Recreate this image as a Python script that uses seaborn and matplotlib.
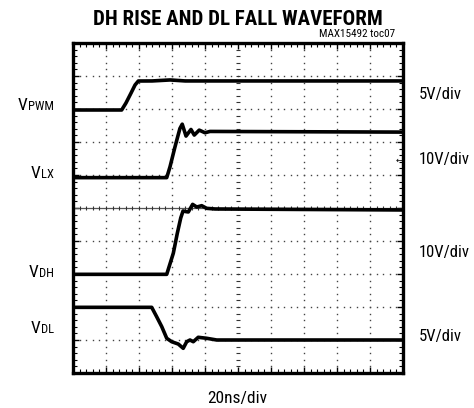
import numpy as np
import pandas as pd
import matplotlib
matplotlib.use("Agg")
import matplotlib.pyplot as plt
from matplotlib import font_manager as fm
import seaborn as sns

# ---------------- data ----------------
# time in ns (20 ns/div, 10 div), voltages in V relative to each trace's ground level
pwm_t = [0, 29.5, 32.1, 35.2, 37.6, 39.6, 48, 58.8, 68, 200]
pwm_v = [0, 0, 1.06, 2.58, 3.79, 4.39, 4.4, 4.55, 4.4, 4.4]

lx_t = [0, 56.8, 58.8, 61.8, 64.8, 66.2, 68.5, 71.5, 73.5, 76.5, 80.0, 83.0, 200]
lx_v = [0, 0, 3.3, 9.3, 14.9, 16.2, 12.6, 14.6, 12.9, 14.4, 13.6, 14.0, 13.8]

dh_t = [0, 56.8, 60.8, 63.2, 65.3, 66.7, 68.5, 69.9, 72.5, 75.0, 78.0, 81.0, 86.1, 200]
dh_v = [0, 0, 6.4, 12.4, 17.1, 19.2, 19.0, 18.9, 21.2, 20.4, 20.8, 20.0, 19.8, 19.5]

dl_t = [0, 47.7, 50.7, 53.8, 56.8, 59.8, 63.8, 66.8, 68.9, 70.9, 72.9, 75.9, 81.0, 87.1, 200]
dl_v = [4.95, 4.95, 3.53, 2.02, 0.26, -0.26, -0.61, -1.26, -0.26, 0, -0.26, 0.41, 0.26, 0, 0]

channels = ["PWM", "LX", "DH", "DL"]
volts_per_div = [5, 10, 10, 5]
ground_div = [7.97, 5.92, 2.99, 1.0]
scale_labels = ["5V/div", "10V/div", "10V/div", "5V/div"]
time_label = "20ns/div"
title = "DH RISE AND DL FALL WAVEFORM"
tag = "MAX15492 toc07"

# ---------------- styling ----------------
sns.set_style("white")
names = {f.name for f in fm.fontManager.ttflist}
cond = next((n for n in ["Liberation Sans Narrow", "Roboto Condensed",
                         "DejaVu Sans Condensed", "Open Sans Condensed"]
             if n in names), None)
if cond is not None:
    FAM = [cond, "DejaVu Sans"]
    LAB, RLAB, SUB, TIT, TAG = 12.5, 12, 9, 15, 8
else:
    FAM = ["Roboto", "DejaVu Sans"]
    LAB, RLAB, SUB, TIT, TAG = 11, 10.5, 8, 13.5, 7
plt.rcParams["font.family"] = FAM
plt.rcParams["text.color"] = "black"

W, H = 474, 408
fig = plt.figure(figsize=(W / 100, H / 100), dpi=100)
L, R, T, B = 73, 403, 43, 373
ax = fig.add_axes([L / W, 1 - B / H, (R - L) / W, (B - T) / H])
ax.set_xlim(0, 200)
ax.set_ylim(0, 10)

# dotted graticule
for i in range(1, 10):
    if i == 5:
        continue
    ys = np.arange(0, 10.01, 0.2)
    ax.plot(np.full_like(ys, i * 20), ys, ls="none", marker="s", ms=1.0,
            color="#444444", mew=0)
    xs = np.arange(0, 200.01, 4)
    ax.plot(xs, np.full_like(xs, i), ls="none", marker="s", ms=1.0,
            color="#444444", mew=0)
# centre cross with small ticks
ax.axhline(5, color="#555555", lw=0.9)
xs = np.arange(0, 200.01, 4)
ax.plot(xs, np.full_like(xs, 5), ls="none", marker="|", ms=3.5, mew=0.8, color="#333333")
ys = np.arange(0, 10.01, 0.2)
ax.plot(np.full_like(ys, 100), ys, ls="none", marker="_", ms=3.5, mew=0.8, color="#333333")

# traces
traces = [(pwm_t, pwm_v), (lx_t, lx_v), (dh_t, dh_v), (dl_t, dl_v)]
for (t, v), vpd, g, ch in zip(traces, volts_per_div, ground_div, channels):
    df = pd.DataFrame({"t": t, "y": g + np.asarray(v) / vpd})
    sns.lineplot(data=df, x="t", y="y", ax=ax, color="black", lw=2.6,
                 estimator=None, sort=False)

ax.set_xlabel("")
ax.set_ylabel("")
ax.set_xticks(np.arange(0, 201, 20))
ax.set_yticks(np.arange(0, 11, 1))
ax.set_xticks(np.arange(0, 201, 4), minor=True)
ax.set_yticks(np.arange(0, 10.01, 0.2), minor=True)
ax.tick_params(which="both", direction="in", top=True, right=True, left=True,
               bottom=True, labelbottom=False, labelleft=False, color="black")
ax.tick_params(which="major", length=4, width=1.0)
ax.tick_params(which="minor", length=2.8, width=0.8)
for s in ax.spines.values():
    s.set_linewidth(2.4)
    s.set_color("black")

# ground marker arrow for LX
ax.text(197.5, (373 - 160) / 33, "\u2190", fontsize=6, ha="center", va="center",
        family=["DejaVu Sans"])

# texts
fig.text(238 / W, 1 - 25 / H, title, ha="center", va="baseline",
         fontsize=TIT, fontweight="bold")
fig.text(395 / W, 1 - 36.7 / H, tag, ha="right", va="baseline", fontsize=TAG)
fig.text(237.5 / W, 1 - 403 / H, time_label, ha="center", va="baseline", fontsize=LAB)

right_y = [94, 160, 252.5, 337]
for lab, y in zip(scale_labels, right_y):
    fig.text(419 / W, 1 - y / H, lab, ha="left", va="center", fontsize=RLAB)

left_base = [110, 178, 277, 333]
fig.canvas.draw()
rend = fig.canvas.get_renderer()
for ch, yb in zip(channels, left_base):
    sub = fig.text(54 / W, 1 - yb / H, ch, ha="right", va="baseline", fontsize=SUB)
    bb = sub.get_window_extent(renderer=rend)
    fig.text((bb.x0 - 0.5) / W, 1 - yb / H, "V", ha="right", va="baseline", fontsize=LAB)

fig.savefig("out.png", dpi=100)
